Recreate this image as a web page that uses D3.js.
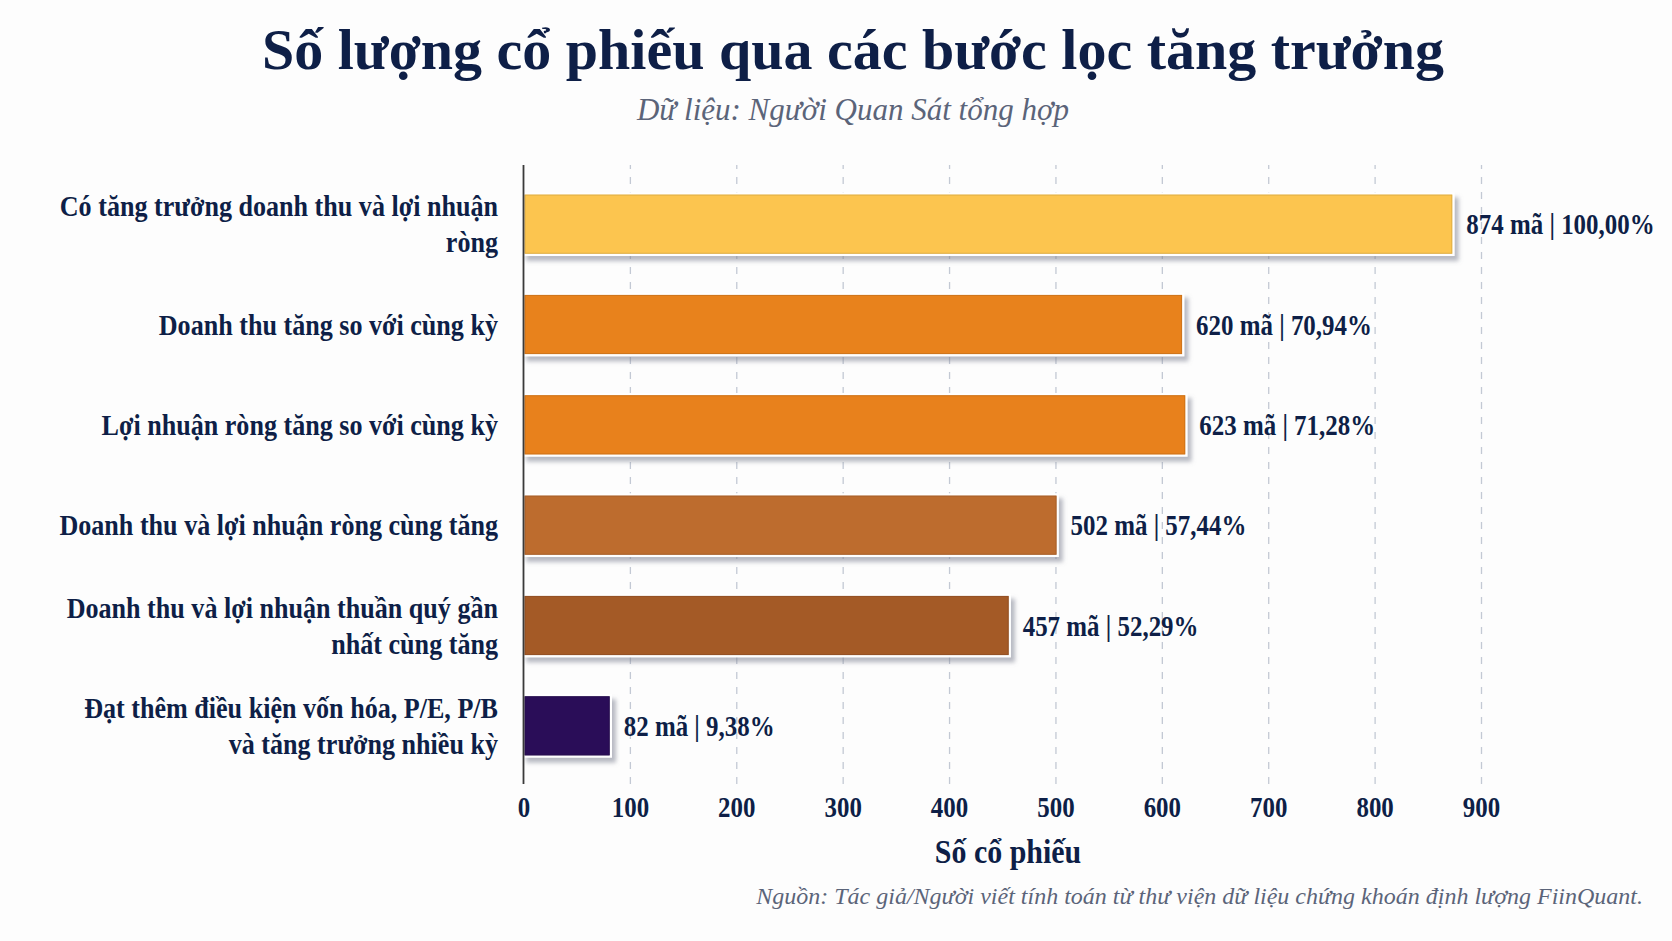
<!DOCTYPE html>
<html>
<head>
<meta charset="utf-8">
<script src="https://cdn.jsdelivr.net/npm/d3@7"></script>
<style>
  html, body { margin: 0; padding: 0; background: #fdfdfd; }
  svg text { font-family: "Liberation Serif", "DejaVu Serif", serif; }
</style>
</head>
<body>
<div id="chart"></div>
<script>
const WIDTH = 1672, HEIGHT = 941;
const NAVY = "#0e1f47";

// data
const categories = [
    ["Có tăng trưởng doanh thu và lợi nhuận", "ròng"],
    ["Doanh thu tăng so với cùng kỳ"],
    ["Lợi nhuận ròng tăng so với cùng kỳ"],
    ["Doanh thu và lợi nhuận ròng cùng tăng"],
    ["Doanh thu và lợi nhuận thuần quý gần", "nhất cùng tăng"],
    ["Đạt thêm điều kiện vốn hóa, P/E, P/B", "và tăng trưởng nhiều kỳ"]
];
const counts = [874, 620, 623, 502, 457, 82];
const shares = ["100,00%", "70,94%", "71,28%", "57,44%", "52,29%", "9,38%"];
const barColors = ["#fcc54f", "#e8821c", "#e8811a", "#bd6c2e", "#a45a26", "#2c1159"];
const xTicks = [0, 100, 200, 300, 400, 500, 600, 700, 800, 900];

const svg = d3.select("#chart")
    .append("svg")
    .attr("width", WIDTH)
    .attr("height", HEIGHT)
    .style("background", "#fdfdfd")

const defs = svg.append("defs")
defs.append("filter")
    .attr("id", "shadow")
    .attr("x", "-5%").attr("y", "-20%").attr("width", "115%").attr("height", "150%")
    .append("feDropShadow")
    .attr("dx", 4).attr("dy", 5)
    .attr("stdDeviation", 2.2)
    .attr("flood-color", "#7d8291")
    .attr("flood-opacity", 0.55)

const x = d3.scaleLinear()
    .domain([0, 900])
    .range([523.5, 1481]);
const y = d3.scaleBand()
    .domain(d3.range(categories.length))
    .range([174, 776])
    .paddingInner(0.39)
    .paddingOuter(0.195);

// squeeze = how much the text gets narrowed (reference uses a condensed serif)
function Label(sel, squeeze) {
    return sel.attr("data-squeeze", squeeze).classed("squeeze", true)
}

// title block
Label(svg.append("text"), 1.0)
    .attr("x", 853).attr("y", 69)
    .attr("text-anchor", "middle")
    .attr("font-size", 58).attr("font-weight", "bold")
    .attr("fill", NAVY)
    .text("Số lượng cổ phiếu qua các bước lọc tăng trưởng")
Label(svg.append("text"), 1.0)
    .attr("x", 853).attr("y", 120)
    .attr("text-anchor", "middle")
    .attr("font-size", 31).attr("font-style", "italic")
    .attr("fill", "#5b6479")
    .text("Dữ liệu: Người Quan Sát tổng hợp")

// grid
const grid = svg.append("g")
    .attr("class", "grid")
    .attr("transform", "translate(0,784)")
    .call(d3.axisBottom(x).tickValues(xTicks.slice(1)).tickSize(-619).tickFormat(""))
grid.select(".domain").remove()
grid.selectAll("line")
    .attr("stroke", "#c3c9d4")
    .attr("stroke-width", 1.3)
    .attr("stroke-dasharray", "7,8")

// x axis labels
const xAxis = svg.append("g")
    .attr("transform", "translate(0,796)")
    .call(d3.axisBottom(x).tickValues(xTicks).tickSize(0).tickPadding(0))
xAxis.select(".domain").remove()
Label(xAxis.selectAll("text"), 0.86)
    .attr("font-family", "Liberation Serif")
    .attr("font-size", 29)
    .attr("font-weight", "bold")
    .attr("fill", NAVY)

Label(svg.append("text"), 0.88)
    .attr("x", 1008).attr("y", 863)
    .attr("text-anchor", "middle")
    .attr("font-size", 34).attr("font-weight", "bold")
    .attr("fill", NAVY)
    .text("Số cổ phiếu")

// bars
svg.append("g")
    .selectAll("rect")
    .data(counts)
    .join("rect")
    .attr("x", x(0))
    .attr("y", (d, i) => y(i))
    .attr("width", d => x(d) - x(0))
    .attr("height", y.bandwidth())
    .attr("fill", (d, i) => barColors[i])
    .attr("stroke", "#ffffff")
    .attr("stroke-width", 2.5)
    .attr("filter", "url(#shadow)")

// thin darker edge just inside the white border
svg.append("g")
    .selectAll("rect")
    .data(counts)
    .join("rect")
    .attr("x", x(0) + 1.5)
    .attr("y", (d, i) => y(i) + 1.5)
    .attr("width", d => x(d) - x(0) - 3)
    .attr("height", y.bandwidth() - 3)
    .attr("fill", "none")
    .attr("stroke", (d, i) => d3.color(barColors[i]).darker(0.35))
    .attr("stroke-width", 1)

// left axis line
svg.append("line")
    .attr("x1", x(0)).attr("x2", x(0))
    .attr("y1", 165).attr("y2", 784)
    .attr("stroke", "#3a3a3a")
    .attr("stroke-width", 1.8)

// value labels
Label(svg.append("g")
    .selectAll("text")
    .data(counts)
    .join("text"), 0.86)
    .attr("x", d => x(d) + 13)
    .attr("y", (d, i) => y(i) + y.bandwidth() / 2 + 10)
    .attr("font-size", 29).attr("font-weight", "bold")
    .attr("fill", NAVY)
    .text((d, i) => `${d} mã | ${shares[i]}`)

// category labels
const LINE_H = 36;
categories.forEach((lines, i) => {
    const cy = y(i) + y.bandwidth() / 2;
    lines.forEach((line, j) => {
        Label(svg.append("text"), 0.9)
            .attr("x", 498)
            .attr("y", cy + 10 + (j - (lines.length - 1) / 2) * LINE_H)
            .attr("text-anchor", "end")
            .attr("font-size", 29).attr("font-weight", "bold")
            .attr("fill", NAVY)
            .text(line)
    })
})

// source note
Label(svg.append("text"), 1.0)
    .attr("x", 1643).attr("y", 904)
    .attr("text-anchor", "end")
    .attr("font-size", 24).attr("font-style", "italic")
    .attr("fill", "#5b6479")
    .text("Nguồn: Tác giả/Người viết tính toán từ thư viện dữ liệu chứng khoán định lượng FiinQuant.")

// narrow the glyphs horizontally around each text's anchor point
svg.selectAll(".squeeze").each(function () {
    const k = +this.getAttribute("data-squeeze")
    if (k === 1) return
    const tx = +this.getAttribute("x") || 0
    const ty = +this.getAttribute("y") || 0
    d3.select(this)
        .attr("x", 0).attr("y", 0)
        .attr("transform", `translate(${tx},${ty}) scale(${k},1)`)
})
</script>
</body>
</html>
